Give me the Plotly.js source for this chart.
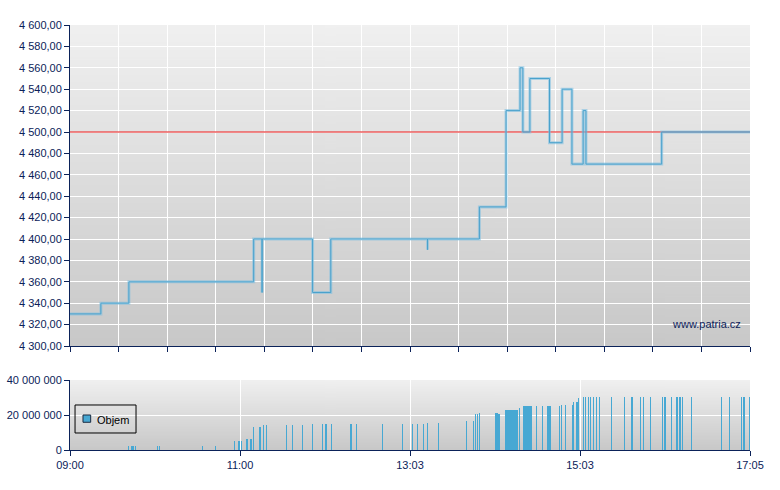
<!DOCTYPE html>
<html><head><meta charset="utf-8">
<script src="https://cdn.plot.ly/plotly-3.0.1.min.js"></script>
<style>html,body{margin:0;padding:0;background:#fff}#chart{width:780px;height:490px}</style>
</head><body><div id="chart"></div>
<script>
// ---- data ----
const sessionStart = "09:00";
const sessionEnd = "17:05";
const axisLabels = ["09:00", "11:00", "13:03", "15:03", "17:05"];
const legendLabel = "Objem";

const priceTimes = ["09:00","09:22","09:42","11:11","11:17","11:17","11:53","12:06","13:15","13:15","13:52","14:11","14:21","14:23","14:28","14:42","14:51","14:58","15:06","15:08","16:02","17:05"];
const priceValues = [4330,4340,4360,4400,4350,4400,4350,4400,4390,4400,4430,4520,4560,4500,4550,4490,4540,4470,4520,4470,4500,4500];

const refTimes = ["09:00","17:05"];
const refValues = [4500,4500];

const volumeTimes = ["09:41:36","09:44:12","09:45:24","09:46:36","10:02:36","10:03:36","10:34:24","10:43:36","10:57:12","11:00:18","11:01:12","11:02:12","11:06:12","11:09:06","11:10:42","11:15:00","11:15:42","11:17:54","11:20:00","11:34:18","11:38:30","11:45:42","11:52:48","11:59:54","12:02:06","12:02:48","12:06:24","12:19:54","12:20:36","12:24:12","12:42:42","12:57:00","13:04:06","13:07:42","13:12:00","13:14:48","13:22:42","13:42:36","13:47:36","13:49:06","13:50:30","13:51:54","14:03:18","14:04:06","14:05:00","14:06:00","14:10:30","14:11:12","14:11:54","14:12:36","14:13:24","14:14:06","14:14:48","14:15:30","14:16:12","14:16:54","14:17:36","14:18:06","14:19:18","14:20:54","14:23:24","14:24:06","14:24:48","14:25:30","14:26:12","14:27:00","14:27:42","14:28:24","14:29:06","14:32:54","14:36:54","14:40:30","14:41:18","14:42:00","14:42:48","14:49:00","14:50:42","14:53:18","14:58:12","14:59:12","15:01:12","15:01:54","15:02:42","15:06:06","15:07:48","15:09:30","15:11:06","15:13:30","15:15:24","15:17:30","15:26:06","15:35:18","15:40:18","15:41:00","15:46:42","15:49:12","15:53:54","16:02:24","16:04:24","16:08:54","16:12:24","16:13:06","16:15:06","16:17:00","16:23:24","16:44:30","16:50:12","16:58:48","17:00:12","17:00:54","17:04:30"];
const volumeValues = [2.3e6,2.3e6,2.3e6,2.3e6,2.3e6,2.3e6,2.3e6,2.3e6,5.1e6,5.1e6,5.1e6,5.1e6,6.3e6,6.3e6,13.1e6,13.1e6,13.1e6,14.3e6,14.3e6,14.3e6,14.3e6,14.3e6,14.9e6,14.9e6,14.9e6,14.9e6,14.9e6,14.9e6,14.9e6,14.9e6,14.9e6,14.9e6,14.9e6,14.9e6,14.9e6,15.6e6,15.6e6,16.6e6,16.6e6,20.6e6,20.6e6,21.1e6,21.1e6,21.1e6,21.1e6,20.6e6,22.9e6,22.9e6,22.9e6,22.9e6,22.9e6,22.9e6,22.9e6,22.9e6,22.9e6,22.9e6,22.9e6,22.9e6,22.9e6,24.0e6,25.1e6,25.1e6,25.1e6,25.1e6,25.1e6,25.1e6,25.1e6,25.1e6,25.1e6,25.1e6,25.1e6,25.1e6,25.1e6,25.1e6,25.1e6,25.1e6,25.7e6,25.7e6,25.7e6,27.4e6,27.4e6,27.4e6,29.7e6,30.3e6,30.3e6,30.3e6,30.3e6,30.3e6,30.3e6,30.3e6,30.3e6,30.3e6,30.3e6,30.3e6,30.3e6,30.3e6,30.3e6,30.3e6,30.3e6,30.3e6,30.3e6,30.3e6,30.3e6,30.3e6,30.3e6,30.3e6,30.3e6,30.3e6,30.3e6,30.3e6,30.3e6];

// ---- helpers ----
function toMin(s){const p=s.split(':').map(Number);return (p[0]-9)*60+p[1]+(p[2]||0)/60;}
const t0 = toMin(sessionStart), t1 = toMin(sessionEnd);
const span = t1 - t0;
const bottomTicks = axisLabels.map((_,i)=>t0+span*i/(axisLabels.length-1));
const topTicks = [];
for(let k=0;k<=14;k++) topTicks.push(t0+span*k/14);

function gradient(){
  const c=document.createElement('canvas');c.width=4;c.height=256;
  const g=c.getContext('2d');const gr=g.createLinearGradient(0,0,0,256);
  gr.addColorStop(0,'#f0f0f0');gr.addColorStop(1,'#c8c8c8');
  g.fillStyle=gr;g.fillRect(0,0,4,256);return c.toDataURL();
}
const bg = gradient();

const navy = '#0b2259';
const barColor = '#47a8d3';
const fam = '"Liberation Sans", Arial, sans-serif';
const font = {family:fam, size:11, color:navy};

const traces = [
  {x:refTimes.map(toMin), y:refValues, type:'scatter', mode:'lines', line:{color:'rgba(235,70,70,0.65)', width:2}, xaxis:'x', yaxis:'y', showlegend:false, hoverinfo:'skip'},
  {x:priceTimes.map(toMin), y:priceValues, type:'scatter', mode:'lines', line:{color:'rgba(120,190,225,0.55)', width:3, shape:'hv'}, xaxis:'x', yaxis:'y', showlegend:false, hoverinfo:'skip'},
  {x:priceTimes.map(toMin), y:priceValues, type:'scatter', mode:'lines', line:{color:'#4aa2cc', width:1, shape:'hv'}, xaxis:'x', yaxis:'y', showlegend:false},
  {x:volumeTimes.map(toMin), y:volumeValues, type:'bar', name:legendLabel, width:0.8, marker:{color:barColor, line:{width:0}}, xaxis:'x2', yaxis:'y2', showlegend:false}
];

const layout = {
  width:780, height:490,
  margin:{l:70, r:30, t:25, b:40},
  paper_bgcolor:'#ffffff', plot_bgcolor:'rgba(0,0,0,0)',
  separators:', ',
  font:font,
  showlegend:false,
  bargap:0,
  xaxis:{domain:[0,1], range:[t0,t1], anchor:'y', tickmode:'array', tickvals:topTicks, showticklabels:false,
         ticks:'outside', ticklen:5, tickcolor:navy, showline:true, linecolor:navy, linewidth:1,
         showgrid:true, gridcolor:'#ffffff', gridwidth:1, zeroline:false, fixedrange:true},
  yaxis:{domain:[0.2447,1], range:[4300,4600], dtick:20, tick0:4300, tickformat:',.2f', anchor:'x',
         ticks:'outside', ticklen:5, tickcolor:navy, showline:true, linecolor:navy, linewidth:1,
         showgrid:true, gridcolor:'#ffffff', gridwidth:1, zeroline:false, tickfont:font},
  xaxis2:{domain:[0,1], range:[t0,t1], anchor:'y2', tickmode:'array', tickvals:bottomTicks, ticktext:axisLabels,
         ticks:'outside', ticklen:5, tickcolor:navy, showline:true, linecolor:navy, linewidth:1,
         showgrid:true, gridcolor:'#ffffff', gridwidth:1, zeroline:false, tickfont:font},
  yaxis2:{domain:[0,0.1647], range:[0,40e6], tickmode:'array', tickvals:[0,20e6,40e6], tickformat:',.0f', anchor:'x2',
         ticks:'outside', ticklen:5, tickcolor:navy, showline:true, linecolor:navy, linewidth:1,
         showgrid:true, gridcolor:'#ffffff', gridwidth:1, zeroline:false, tickfont:font},
  images:[
    {source:bg, xref:'x domain', yref:'y domain', x:0, y:1, sizex:1, sizey:1, sizing:'stretch', layer:'below', xanchor:'left', yanchor:'top'},
    {source:bg, xref:'x2 domain', yref:'y2 domain', x:0, y:1, sizex:1, sizey:1, sizing:'stretch', layer:'below', xanchor:'left', yanchor:'top'}
  ],
  shapes:[
    // legend box
    {type:'rect', xref:'x2 domain', yref:'y2 domain', x0:0.0074, x1:0.0971, y0:0.243, y1:0.643, line:{color:'#000000', width:1}, fillcolor:'rgba(0,0,0,0)'},
    // legend swatch
    {type:'rect', xref:'x2 domain', yref:'y2 domain', x0:0.0191, x1:0.0304, y0:0.396, y1:0.5, line:{color:'#1a2a40', width:1}, fillcolor:barColor}
  ],
  annotations:[
    {text:'www.patria.cz', xref:'x domain', yref:'y domain', x:0.99, y:0.07, xanchor:'right', yanchor:'middle', showarrow:false,
     font:{family:fam, size:11, color:navy}},
    {text:legendLabel, xref:'x2 domain', yref:'y2 domain', x:0.0362, y:0.43, xanchor:'left', yanchor:'middle', showarrow:false,
     font:{family:fam, size:11, color:'#000000'}}
  ]
};

Plotly.newPlot('chart', traces, layout, {staticPlot:true, displayModeBar:false});
</script></body></html>
